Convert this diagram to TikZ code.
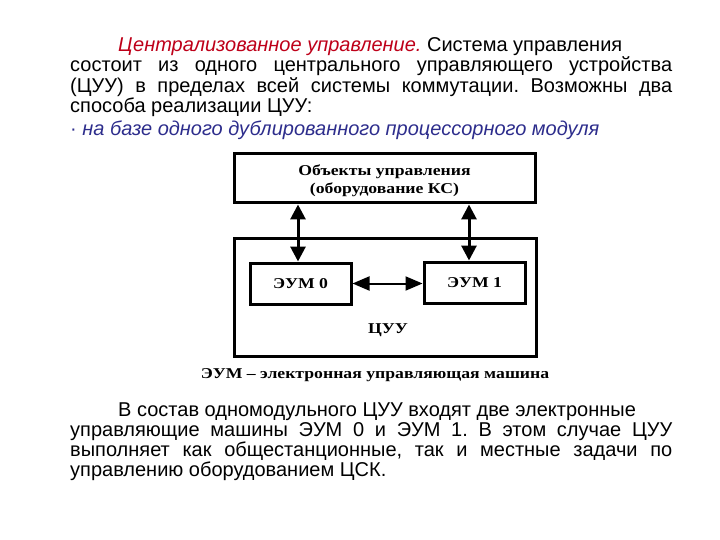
\documentclass[tikz,border=0pt]{standalone}
\usepackage{fontspec}
\setmainfont{Liberation Sans}
\newfontfamily\serifb{Liberation Serif}
\usetikzlibrary{arrows.meta}
\definecolor{darkred}{RGB}{190,0,25}
\definecolor{navyish}{RGB}{45,45,140}
\newcommand{\widetxt}[1]{\scalebox{1.18}[1]{#1}}
\tikzset{
  para/.style={anchor=base west, inner sep=0pt, text height=13pt, text depth=3pt, font=\fontsize{20}{21}\selectfont},
  box/.style={draw, line width=3pt, inner sep=0pt},
  lbl/.style={font=\serifb\bfseries\fontsize{15}{18}\selectfont, align=center},
  dbl/.style={line width=3pt, {Triangle[width=15pt,length=15pt]}-{Triangle[width=15pt,length=15pt]}},
  hdbl/.style={line width=2pt, {Triangle[width=14pt,length=17pt]}-{Triangle[width=14pt,length=17pt]}}
}
\begin{document}
\frenchspacing
\begin{tikzpicture}[x=1pt,y=-1pt]
\useasboundingbox (0,0) rectangle (720,540);
% top paragraph
\node[para] (t1) at (118,52) {\textcolor{darkred}{\itshape Централизованное управление.} Система управления};
\node[para] (t2) at (70,72) {\makebox[602pt][s]{состоит из одного центрального управляющего устройства}};
\node[para] (t3) at (70,92.5) {\makebox[602pt][s]{(ЦУУ) в пределах всей системы коммутации. Возможны два}};
\node[para] (t4) at (70,112.5) {способа реализации ЦУУ:};
\node[para] (t5) at (70,136) {\textcolor{navyish}{· \itshape на базе одного дублированного процессорного модуля}};
% diagram
\node[box, minimum width=301pt, minimum height=49pt] (top) at (384.5,178.5) {};
\node[lbl] (topl) at (384.5,181) {\widetxt{Объекты управления}\\\widetxt{(оборудование КС)}};
\node[box, minimum width=302pt, minimum height=118pt] (cuu) at (385,297) {};
\node[box, minimum width=101pt, minimum height=41pt, lbl] (e0) at (300.5,283.5) {\widetxt{ЭУМ 0}};
\node[box, minimum width=101pt, minimum height=41pt, lbl] (e1) at (474.5,282.5) {\widetxt{ЭУМ 1}};
\node[lbl] (cuul) at (388,330) {\widetxt{ЦУУ}};
\coordinate (xa) at (298,0);
\coordinate (xb) at (469,0);
\draw[dbl] (top.south -| xa) -- (e0.north -| xa);
\draw[dbl] (top.south -| xb) -- (e1.north -| xb);
\draw[hdbl] (e0.east) -- (e0.east -| e1.west);
\node[lbl] (cap) at (375,375) {\widetxt{ЭУМ – электронная управляющая машина}};
% bottom paragraph
\node[para] (b1) at (118,416) {В состав одномодульного ЦУУ входят две электронные};
\node[para] (b2) at (70,436) {\makebox[602pt][s]{управляющие машины ЭУМ 0 и ЭУМ 1. В этом случае ЦУУ}};
\node[para] (b3) at (70,456) {\makebox[602pt][s]{выполняет как общестанционные, так и местные задачи по}};
\node[para] (b4) at (70,476) {управлению оборудованием ЦСК.};
\end{tikzpicture}
\end{document}
